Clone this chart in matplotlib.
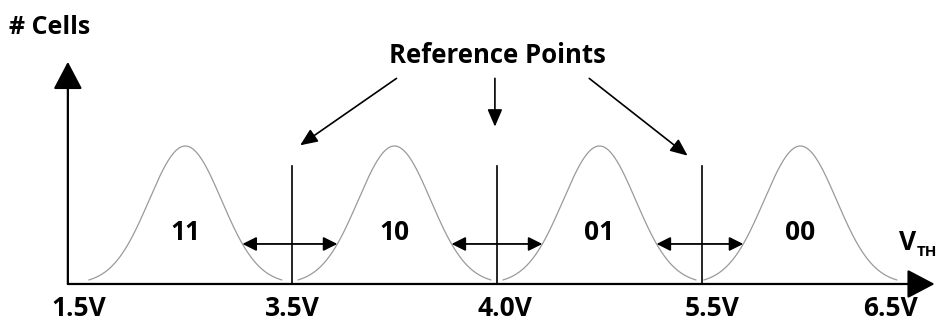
import numpy as np
import matplotlib
matplotlib.use("Agg")
import matplotlib.pyplot as plt

# threshold-voltage distributions of a 2-bit MLC cell
states = ["11", "10", "01", "00"]
peaks = [0.48, 1.50, 2.50, 3.48]          # distribution centres (axis units)
sigma = 0.177
ref_pos = [1.0, 2.0, 3.0]                 # read reference voltages
tick_pos = [-0.04, 1.0, 2.04, 3.05, 3.92]
tick_labels = ["1.5V", "3.5V", "4.0V", "5.5V", "6.5V"]

arrow_y = 0.29      # height of the margin arrows
ref_top = 0.855     # top of the reference lines

FONT = ["Open Sans", "DejaVu Sans"]

fig = plt.figure(figsize=(9.4, 3.24), dpi=100)
ax = fig.add_axes([0, 0, 1, 1])
ax.set_xlim(-0.424, 4.161)
ax.set_ylim(-0.29, 2.058)
ax.axis("off")


def bell(x, mu):
    return np.exp(-0.5 * ((x - mu) / sigma) ** 2)


# axes with arrowheads
x0 = -0.093
axis_arrow = dict(arrowstyle="-|>,head_length=0.95,head_width=0.5",
                  lw=1.6, color="black", mutation_scale=18,
                  shrinkA=0, shrinkB=0)
ax.annotate("", xy=(x0, 1.61), xytext=(x0, 0), arrowprops=axis_arrow)
ax.annotate("", xy=(4.135, 0), xytext=(x0, 0), arrowprops=axis_arrow)

# the four distributions
for mu, lab in zip(peaks, states):
    x = np.linspace(mu - 0.47, mu + 0.47, 300)
    ax.plot(x, bell(x, mu), color="#9a9a9a", lw=0.9, zorder=2)
    ax.text(mu, 0.375, lab, ha="center", va="center", fontsize=19,
            fontweight="bold", family=FONT)

# reference lines and read margins
half = sigma * np.sqrt(-2 * np.log(arrow_y))
for i, r in enumerate(ref_pos):
    ax.plot([r, r], [0, ref_top], color="black", lw=1.2, zorder=3)
    ax.annotate("", xy=(peaks[i] + half, arrow_y),
                xytext=(peaks[i + 1] - half, arrow_y),
                arrowprops=dict(arrowstyle="<|-|>,head_length=0.6,head_width=0.3",
                                lw=1.3, color="black", mutation_scale=14,
                                shrinkA=0, shrinkB=0))

# "Reference Points" callout
ax.text(2.0, 1.655, "Reference Points", ha="center", va="center",
        fontsize=18.5, fontweight="bold", family=FONT)
callouts = [((1.51, 1.49), (1.04, 1.005)),
            ((1.99, 1.49), (1.99, 1.14)),
            ((2.45, 1.49), (2.93, 0.93))]
for start, end in callouts:
    ax.annotate("", xy=end, xytext=start,
                arrowprops=dict(arrowstyle="-|>,head_length=0.7,head_width=0.3",
                                lw=1.2, color="black", mutation_scale=15,
                                shrinkA=0, shrinkB=0))

# labels
for p, t in zip(tick_pos, tick_labels):
    ax.text(p, -0.18, t, ha="center", va="center", fontsize=19,
            fontweight="bold", family=FONT)
ax.text(-0.378, 1.86, "# Cells", ha="left", va="center", fontsize=18,
        fontweight="bold", family=FONT)
ax.text(4.005, 0.30, "V", ha="center", va="center", fontsize=19,
        fontweight="bold", family=FONT)
ax.text(4.098, 0.235, "TH", ha="center", va="center", fontsize=11,
        fontweight="bold", family=FONT)

fig.savefig("out.png", dpi=100)
